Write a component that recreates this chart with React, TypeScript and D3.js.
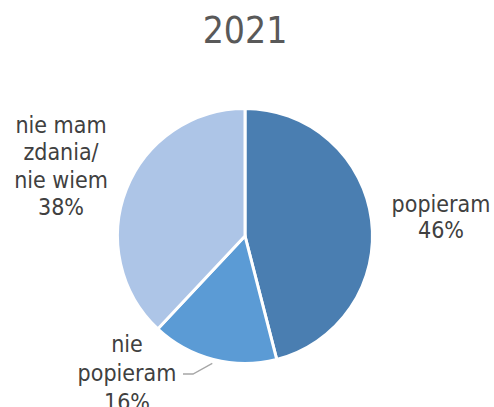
import React from "react";
import * as d3 from "d3";

const title = "2021";
const categories = ["popieram", "nie popieram", "nie mam zdania/ nie wiem"];
const values = [46, 16, 38];
const labelLines = [
  ["popieram", "46%"],
  ["nie", "popieram", "16%"],
  ["nie mam", "zdania/", "nie wiem", "38%"],
];
const colors = ["#4A7EB1", "#5B9BD5", "#ADC5E7"];

const W = 494;
const H = 407;
const cx = 245;
const cy = 236;
const R = 127.5;
const FONT = "'DejaVu Sans Condensed', 'DejaVu Sans', sans-serif";

// label anchor positions (center x, first baseline y)
const labelPos = [
  { x: 441, y: 212, lh: 26 },
  { x: 127, y: 352, lh: 29 },
  { x: 61, y: 133, lh: 27.3 },
];

export default function App() {
  const pie = d3.pie<number>().sort(null).value((d) => d);
  const arcs = pie(values);
  const arc = d3.arc<d3.PieArcDatum<number>>().innerRadius(0).outerRadius(R);
  const nieArc = arcs[1];
  const mid = (nieArc.startAngle + nieArc.endAngle) / 2;
  const p0 = [Math.sin(mid) * (R + 4), -Math.cos(mid) * (R + 4)];
  const leader = d3.line()([
    [cx + p0[0], cy + p0[1]],
    [193, 374],
    [183, 374],
  ]);
  return (
    <svg width={W} height={H} style={{ position: "absolute", left: 0, top: 0, background: "#fff" }}>
      <text x={cx} y={43} textAnchor="middle" fontFamily={FONT} fontSize={37} fill="#595959">
        {title}
      </text>
      <g transform={`translate(${cx},${cy})`}>
        {arcs.map((a, i) => (
          <path key={categories[i]} d={arc(a) || ""} fill={colors[i]} stroke="#fff" strokeWidth={3} />
        ))}
      </g>
      <path d={leader || ""} fill="none" stroke="#A6A6A6" strokeWidth={1.3} />
      {labelLines.map((lines, i) => (
        <text key={i} fontFamily={FONT} fontSize={23} fill="#404040" textAnchor="middle">
          {lines.map((l, j) => (
            <tspan key={j} x={labelPos[i].x} y={labelPos[i].y + j * labelPos[i].lh}>
              {l}
            </tspan>
          ))}
        </text>
      ))}
    </svg>
  );
}
